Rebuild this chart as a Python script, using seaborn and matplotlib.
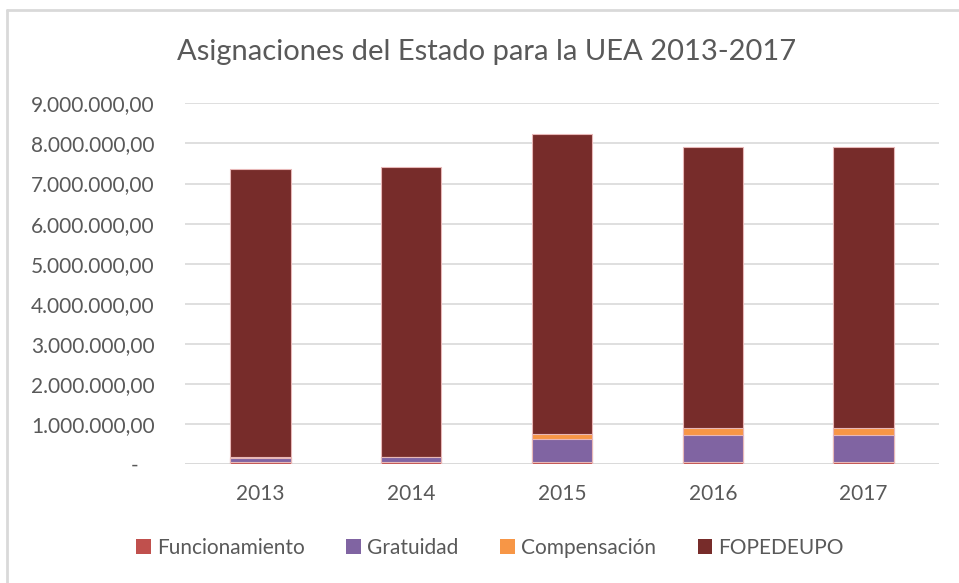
import numpy as np
import pandas as pd
import matplotlib
matplotlib.use('Agg')
import matplotlib.pyplot as plt
import seaborn as sns
from matplotlib.lines import Line2D
from matplotlib.patches import Patch
from matplotlib.ticker import FuncFormatter

years = ['2013', '2014', '2015', '2016', '2017']
funcionamiento = [65000, 65000, 60000, 60000, 60000]
gratuidad = [90000, 115000, 570000, 670000, 670000]
compensacion = [30000, 0, 130000, 165000, 165000]
fopedeupo = [7175000, 7230000, 7470000, 7025000, 7025000]

series = ['Funcionamiento', 'Gratuidad', 'Compensación', 'FOPEDEUPO']
colors = ['#C0504D', '#8064A2', '#F79646', '#772C2A']

df = pd.DataFrame({'Año': years,
                   'Funcionamiento': funcionamiento,
                   'Gratuidad': gratuidad,
                   'Compensación': compensacion,
                   'FOPEDEUPO': fopedeupo})

sns.set_theme(style="white")
plt.rcParams['font.family'] = ['Lato', 'DejaVu Sans']
text_color = '#595959'

fig = plt.figure(figsize=(9.59, 5.83), dpi=100)
ax = fig.add_axes([185 / 959, 1 - 464.3 / 583, 754 / 959, 361 / 583])

# stacked bars: draw cumulative totals, tallest at the back
bottom = np.zeros(len(years))
for i, (name, col) in enumerate(zip(series, colors)):
    bottom = bottom + df[name].to_numpy(dtype=float)
    sns.barplot(x=df['Año'], y=bottom, color=col, saturation=1, width=0.4,
                edgecolor='#E8B8B8', linewidth=0.8, ax=ax)
    for bar in ax.containers[-1]:
        bar.set_zorder(10 - i)

ax.set_ylim(0, 9000000)
ax.set_yticks(np.arange(0, 9000001, 1000000))

def fmt(v, pos):
    if v == 0:
        return '-   '
    return f'{int(v):,}'.replace(',', '.') + ',00'

ax.yaxis.set_major_formatter(FuncFormatter(fmt))
ax.grid(axis='y', color='#D9D9D9', linewidth=1.2, zorder=0)
ax.set_axisbelow(True)
for s in ax.spines.values():
    s.set_visible(False)
ax.axhline(0, color='#D9D9D9', linewidth=1.2, zorder=1)
ax.set_xlabel('')
ax.set_ylabel('')
ax.tick_params(axis='both', length=0, colors=text_color, labelsize=15)
ax.tick_params(axis='y', pad=22)
ax.tick_params(axis='x', pad=14)
ax.set_xlim(-0.5, 4.5)

fig.text(487 / 959, 1 - 52 / 583, 'Asignaciones del Estado para la UEA 2013-2017',
         ha='center', va='center', fontsize=21, color=text_color)

handles = [Patch(facecolor=c, edgecolor='none') for c in colors]
fig.legend(handles, series, loc='center', bbox_to_anchor=(490 / 959, 1 - 548 / 583),
           ncol=4, frameon=False, fontsize=15, labelcolor=text_color,
           handlelength=0.7, handleheight=0.7, handletextpad=0.3, columnspacing=2.0)

# chart area border
fig.add_artist(Line2D([7 / 959, 7 / 959], [0, 1 - 10 / 583], transform=fig.transFigure,
                      color='#D9D9D9', linewidth=2))
fig.add_artist(Line2D([7 / 959, 1], [1 - 10 / 583, 1 - 10 / 583], transform=fig.transFigure,
                      color='#D9D9D9', linewidth=2))

fig.savefig('out.png', dpi=100, facecolor='white')
